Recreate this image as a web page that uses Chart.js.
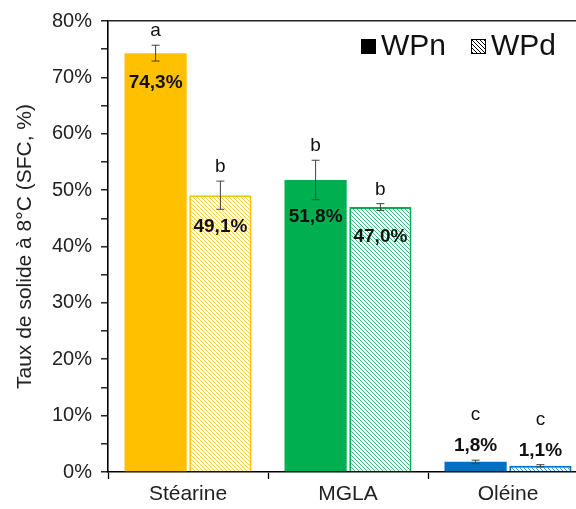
<!DOCTYPE html>
<html>
<head>
<meta charset="utf-8">
<script src="https://cdn.jsdelivr.net/npm/chart.js@4.4.1/dist/chart.umd.min.js"></script>
<style>
  html, body { margin: 0; padding: 0; background: #fff; overflow: hidden; width: 576px; height: 509px; }
  canvas { display: block; }
</style>
</head>
<body>
<canvas id="sfcChart" width="588" height="509"></canvas>
<script>
// données
const categories = ['Stéarine', 'MGLA', 'Oléine'];
const seriesNames = ['WPn', 'WPd'];
const wpnValues = [74.3, 51.8, 1.8];
const wpdValues = [49.1, 47.0, 1.1];
const wpnErrors = [1.4, 3.5, 0.3];
const wpdErrors = [2.5, 0.6, 0.2];
const wpnLetters = ['a', 'b', 'c'];
const wpdLetters = ['b', 'b', 'c'];
const yTicks = [0, 10, 20, 30, 40, 50, 60, 70, 80];
const barColors = ['#FFC000', '#00B050', '#0070C0'];

const FONT = "'Liberation Sans', Arial, sans-serif";

// motif hachuré (diagonale descendante)
function hatch(color, size, lw) {
    const c = document.createElement('canvas');
    c.width = size; c.height = size;
    const g = c.getContext('2d');
    g.fillStyle = '#fff';
    g.fillRect(0, 0, size, size);
    g.strokeStyle = color;
    g.lineWidth = lw;
    g.beginPath();
    g.moveTo(-1, -1); g.lineTo(size + 1, size + 1);
    g.moveTo(-2, size - 2); g.lineTo(2, size + 2);
    g.moveTo(size - 2, -2); g.lineTo(size + 2, 2);
    g.stroke();
    return g.createPattern(c, 'repeat');
}

const fmt = v => v.toFixed(1).replace('.', ',') + '%';

const annotations = {
    id: 'annotations',
    afterDatasetsDraw(chart) {
        const ctx = chart.ctx;
        const y = chart.scales.y;
        const errs = [wpnErrors, wpdErrors];
        const letters = [wpnLetters, wpdLetters];
        ctx.save();
        chart.data.datasets.forEach((ds, di) => {
            const meta = chart.getDatasetMeta(di);
            meta.data.forEach((bar, i) => {
                const v = ds.data[i];
                const e = errs[di][i];
                const top = y.getPixelForValue(v + e);
                const bot = y.getPixelForValue(v - e);
                // barre d'erreur
                ctx.strokeStyle = '#404040';
                ctx.lineWidth = 1;
                ctx.beginPath();
                ctx.moveTo(bar.x, top); ctx.lineTo(bar.x, bot);
                ctx.moveTo(bar.x - 4, top); ctx.lineTo(bar.x + 4, top);
                ctx.moveTo(bar.x - 4, bot); ctx.lineTo(bar.x + 4, bot);
                ctx.stroke();

                ctx.textAlign = 'center';
                ctx.textBaseline = 'middle';
                ctx.fillStyle = '#111';
                let labelY, letterY;
                if (v > 10) {
                    labelY = Math.max(bar.y + 30, bot + 17);
                    letterY = top - 14;
                } else {
                    labelY = top - 14;
                    letterY = top - 45;
                }
                ctx.font = 'bold 19px ' + FONT;
                ctx.fillText(fmt(v), bar.x, labelY);
                ctx.font = '19px ' + FONT;
                ctx.fillText(letters[di][i], bar.x, letterY);
            });
        });

        // légende
        const legendFills = ['#000', hatch('#000', 4, 1)];
        let x = 361;
        const ly = 46;
        ctx.font = '30px ' + FONT;
        ctx.textAlign = 'left';
        seriesNames.forEach((name, k) => {
            ctx.fillStyle = legendFills[k];
            ctx.fillRect(x, ly - 7, 15, 15);
            ctx.strokeStyle = '#000';
            ctx.lineWidth = 1;
            ctx.strokeRect(x + 0.5, ly - 6.5, 14, 14);
            ctx.fillStyle = '#111';
            ctx.fillText(name, x + 20, ly + 1);
            x += 20 + ctx.measureText(name).width + 25;
        });
        ctx.restore();
    }
};

const ctx = document.getElementById('sfcChart').getContext('2d');
new Chart(ctx, {
    type: 'bar',
    data: {
        labels: categories,
        datasets: [{
            label: seriesNames[0],
            data: wpnValues,
            backgroundColor: barColors,
            borderWidth: 0
        }, {
            label: seriesNames[1],
            data: wpdValues,
            backgroundColor: barColors.map(c => hatch(c, 4, 0.8)),
            borderColor: barColors,
            borderWidth: 2
        }]
    },
    options: {
        responsive: false,
        animation: false,
        devicePixelRatio: 1,
        layout: { padding: { top: 20, left: 0, right: 0, bottom: 0 } },
        categoryPercentage: 0.81,
        barPercentage: 0.96,
        plugins: {
            legend: { display: false },
            tooltip: { enabled: false }
        },
        scales: {
            x: {
                afterFit: s => { s.height = 37; },
                grid: {
                    display: true,
                    offset: true,
                    drawOnChartArea: false,
                    tickLength: 7,
                    tickColor: '#000',
                    tickWidth: 1.3
                },
                border: { color: '#000', width: 1.6 },
                ticks: {
                    color: '#222',
                    padding: 3,
                    font: { family: FONT, size: 21 }
                }
            },
            y: {
                min: 0,
                max: 80,
                afterFit: s => { s.width = 108; },
                afterBuildTicks: s => {
                    const t = [];
                    for (let v = 0; v <= 80; v += 5) t.push({ value: v });
                    s.ticks = t;
                },
                grid: {
                    display: true,
                    drawOnChartArea: true,
                    color: c => (c.tick && c.tick.value === 80 ? '#222' : 'rgba(0,0,0,0)'),
                    lineWidth: 1.6,
                    tickLength: 7,
                    tickColor: '#000',
                    tickWidth: 1.3
                },
                border: { color: '#000', width: 1.6 },
                ticks: {
                    autoSkip: false,
                    color: '#222',
                    padding: 9,
                    font: { family: FONT, size: 20 },
                    callback: v => (yTicks.includes(v) ? v + '%' : '')
                },
                title: {
                    display: true,
                    text: 'Taux de solide à 8°C (SFC, %)',
                    color: '#222',
                    font: { family: FONT, size: 21 },
                    padding: { top: 13, bottom: 0 }
                }
            }
        }
    },
    plugins: [annotations]
});
</script>
</body>
</html>
